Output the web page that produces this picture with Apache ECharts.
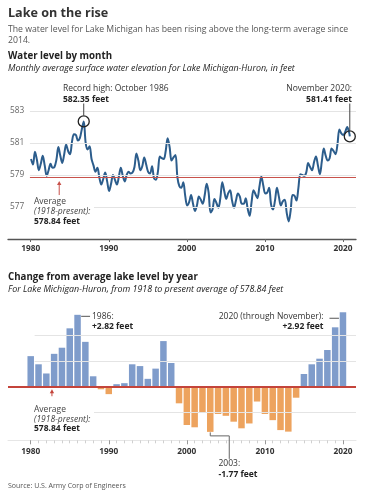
<!DOCTYPE html>
<html>
<head>
<meta charset="utf-8">
<script src="https://cdn.jsdelivr.net/npm/echarts@6/dist/echarts.min.js"></script>
<style>
html,body{margin:0;padding:0;background:#fff;}
#c{width:386px;height:500px;}
</style>
</head>
<body>
<div id="c"></div>
<script>
// ---------- DATA ----------
const lineYears = [1980,1981,1982,1983,1984,1985,1986,1987,1988,1989,
  1990,1991,1992,1993,1994,1995,1996,1997,1998,1999,
  2000,2001,2002,2003,2004,2005,2006,2007,2008,2009,
  2010,2011,2012,2013,2014,2015,2016,2017,2018,2019,2020];
const sampleMonths = [1, 4, 7, 10];
// surface elevation (feet) for the sampled months of each year
const monthlyLevels = [
  [580.00, 579.65, 580.45, 579.95],
  [579.30, 579.70, 580.20, 579.60],
  [578.95, 579.30, 579.70, 579.45],
  [579.50, 579.95, 580.75, 580.20],
  [579.75, 580.30, 580.90, 580.50],
  [580.30, 581.10, 581.55, 581.50],
  [581.15, 581.30, 581.85, 582.35],
  [581.00, 580.60, 580.80, 580.00],
  [579.60, 579.20, 579.45, 578.85],
  [578.40, 578.75, 579.15, 578.60],
  [578.00, 578.45, 579.00, 578.70],
  [578.40, 578.90, 579.45, 578.95],
  [578.60, 579.00, 579.20, 579.10],
  [579.15, 579.50, 580.35, 579.90],
  [579.30, 579.55, 580.10, 579.65],
  [579.20, 579.10, 579.55, 578.80],
  [578.70, 579.20, 580.15, 580.05],
  [580.00, 580.50, 581.30, 580.75],
  [579.90, 580.10, 580.25, 578.85],
  [578.30, 578.20, 578.55, 577.70],
  [577.10, 577.30, 577.75, 577.20],
  [576.75, 577.10, 577.65, 577.45],
  [577.20, 577.75, 578.45, 577.90],
  [576.65, 576.85, 577.50, 577.25],
  [576.95, 577.55, 578.55, 578.00],
  [577.50, 577.85, 578.05, 577.40],
  [576.95, 577.40, 577.85, 577.65],
  [577.20, 577.20, 577.55, 576.90],
  [576.45, 577.30, 578.05, 577.80],
  [577.55, 578.25, 578.90, 578.35],
  [577.85, 577.90, 578.20, 577.15],
  [576.85, 577.40, 578.20, 577.65],
  [577.10, 577.35, 577.45, 576.65],
  [576.10, 576.75, 577.75, 577.70],
  [577.40, 578.20, 579.05, 579.00],
  [578.95, 579.15, 579.75, 579.50],
  [579.30, 579.80, 580.15, 579.60],
  [579.05, 579.85, 580.65, 580.20],
  [579.90, 580.05, 580.65, 580.50],
  [580.30, 580.90, 581.85, 581.60],
  [581.50, 581.70, 582.00, 581.65]
];
const recordHigh = {year: 1986, month: 10, value: 582.35};
const latest = {year: 2020, month: 11, value: 581.41};
const avgLevel = 578.84;
const levelTicks = [577, 579, 581, 583];
const decadeTicks = [1980, 1990, 2000, 2010, 2020];

const barYears = [1980,1981,1982,1983,1984,1985,1986,1987,1988,1989,
  1990,1991,1992,1993,1994,1995,1996,1997,1998,1999,
  2000,2001,2002,2003,2004,2005,2006,2007,2008,2009,
  2010,2011,2012,2013,2014,2015,2016,2017,2018,2019,2020];
const barChange = [1.20, 0.88, 0.52, 1.29, 1.53, 2.29, 2.82, 1.76, 0.41, -0.10,
  -0.29, 0.10, 0.14, 0.88, 0.81, 0.31, 0.71, 1.79, 0.93, -0.65,
  -1.50, -1.59, -1.02, -1.77, -1.07, -1.14, -1.37, -1.63, -1.44, -0.58,
  -1.07, -1.31, -1.70, -1.76, -0.43, 0.50, 0.88, 1.10, 1.44, 2.33, 2.92];
const changeTicks = [-1, 1, 2];

// ---------- BUILD ----------
const FONT = '"Open Sans", "Noto Sans", sans-serif';
const X_MIN = 1977.09, X_MAX = 2021.67;
const toYear = (y, m) => y + (m - 0.5) / 12;
const plain = v => String(v);

const lineData = [];
lineYears.forEach((yr, i) => sampleMonths.forEach((m, j) => lineData.push([toYear(yr, m), monthlyLevels[i][j]])));
lineData.push([toYear(latest.year, latest.month), latest.value]);

const barData = barYears.map((y, i) => ({
  value: [y, barChange[i]],
  itemStyle: {color: barChange[i] >= 0 ? '#7f9ccb' : '#eda35e'}
}));

const GRID_COLOR = '#e4e4e4';
const RED = '#c4443b';

const chart = echarts.init(document.getElementById('c'));

const option = {
  animation: false,
  grid: [
    {left: 8, right: 30, top: 95, bottom: 261},
    {left: 8, right: 30, top: 311.5, bottom: 59.7}
  ],
  xAxis: [
    {gridIndex: 0, type: 'value', min: X_MIN, max: X_MAX, position: 'bottom',
      splitLine: {show: false},
      axisLine: {show: true, onZero: false, lineStyle: {color: '#555', width: 1.3}},
      axisTick: {show: true, customValues: decadeTicks, length: 3, lineStyle: {color: '#666'}},
      axisLabel: {customValues: decadeTicks, formatter: plain, fontSize: 8.3, fontWeight: 'bold', color: '#333', margin: 6, fontFamily: FONT}
    },
    {gridIndex: 1, type: 'value', min: X_MIN, max: X_MAX, position: 'bottom',
      splitLine: {show: false},
      axisLine: {show: true, onZero: false, lineStyle: {color: '#e6e6e6', width: 1}},
      axisTick: {show: true, customValues: barYears, length: 3, lineStyle: {color: '#d0d0d0'}},
      axisLabel: {show: false}
    },
    {gridIndex: 1, type: 'value', min: X_MIN, max: X_MAX, position: 'bottom',
      splitLine: {show: false},
      axisLine: {show: false, onZero: false},
      axisTick: {show: true, customValues: decadeTicks, length: 4, lineStyle: {color: '#999'}},
      axisLabel: {customValues: decadeTicks, formatter: plain, fontSize: 8.3, fontWeight: 'bold', color: '#333', margin: 7, fontFamily: FONT}
    }
  ],
  yAxis: [
    {gridIndex: 0, type: 'value', min: 575, max: 584, interval: 2,
      axisLine: {show: false}, axisTick: {show: false}, splitLine: {show: false},
      axisLabel: {inside: true, margin: 2, fontSize: 8.3, color: '#666', fontFamily: FONT,
        formatter: v => (levelTicks.indexOf(v) >= 0 ? String(v) : '')}
    },
    {gridIndex: 1, type: 'value', min: -2.1, max: 2.95, show: false}
  ],
  series: [
    { // gridlines + average (line chart)
      type: 'line', xAxisIndex: 0, yAxisIndex: 0, data: lineData, symbol: 'none', silent: true,
      lineStyle: {opacity: 0}, z: 1,
      markLine: {silent: true, symbol: 'none', label: {show: false}, animation: false,
        data: levelTicks.map(v => [
          {coord: [1979.9, v], lineStyle: {color: GRID_COLOR, width: 1, type: 'solid'}},
          {coord: [X_MAX, v]}
        ]).concat([[
          {coord: [1979.9, avgLevel], lineStyle: {color: '#c8524b', width: 1, type: 'solid'}},
          {coord: [X_MAX, avgLevel]}
        ]])
      }
    },
    { // water level line
      type: 'line', xAxisIndex: 0, yAxisIndex: 0, data: lineData, symbol: 'none', smooth: 0.35,
      lineStyle: {color: '#2c5d8c', width: 2}, z: 3, silent: true,
      markPoint: {symbol: 'circle', symbolSize: 11, silent: true, label: {show: false},
        itemStyle: {color: 'rgba(255,255,255,0)', borderColor: '#222', borderWidth: 1.3},
        data: [
          {coord: [toYear(recordHigh.year, recordHigh.month), recordHigh.value]},
          {coord: [toYear(latest.year, latest.month), latest.value]}
        ]
      }
    },
    { // bar gridlines
      type: 'line', xAxisIndex: 1, yAxisIndex: 1, data: barData.map(d => d.value), symbol: 'none', silent: true,
      lineStyle: {opacity: 0}, z: 1,
      markLine: {silent: true, symbol: 'none', label: {show: false}, animation: false,
        data: changeTicks.map(v => [
          {coord: [1980.5, v], lineStyle: {color: GRID_COLOR, width: 1, type: 'solid'}},
          {coord: [X_MAX, v]}
        ])
      }
    },
    { // bars
      type: 'bar', xAxisIndex: 1, yAxisIndex: 1, data: barData, barWidth: 6.5, z: 2, silent: true
    },
    { // zero line (average)
      type: 'line', xAxisIndex: 1, yAxisIndex: 1, data: barData.map(d => d.value), symbol: 'none', silent: true,
      lineStyle: {opacity: 0}, z: 4,
      markLine: {silent: true, symbol: 'none', label: {show: false}, animation: false,
        data: [[
          {coord: [X_MIN, 0], lineStyle: {color: RED, width: 2, type: 'solid'}},
          {coord: [X_MAX, 0]}
        ]]
      }
    }
  ]
};
chart.setOption(option);

// ---------- ANNOTATIONS ----------
const px = (si, x, y) => chart.convertToPixel({seriesIndex: si}, [x, y]);
const T = (text, x, y, o) => Object.assign({
  type: 'text', z: 50, silent: true,
  style: Object.assign({text: text, x: x, y: y, fill: '#333', fontFamily: FONT, fontSize: 8.5,
    align: 'left', verticalAlign: 'middle'}, o || {})
});
const L = (pts, color, w) => ({type: 'polyline', z: 40, silent: true,
  shape: {points: pts}, style: {stroke: color || '#555', lineWidth: w || 1, fill: null}});
const arrowUp = (x, tipY, tailY, color) => [
  L([[x, tipY + 2], [x, tailY]], color, 1),
  {type: 'polygon', z: 41, silent: true, shape: {points: [[x, tipY], [x - 2.2, tipY + 4], [x + 2.2, tipY + 4]]}, style: {fill: color}}
];

const rec = px(1, toYear(recordHigh.year, recordHigh.month), recordHigh.value);
const lat = px(1, toYear(latest.year, latest.month), latest.value);
const avgPt = px(0, 1983.65, avgLevel);
const zeroPt = px(4, 1982.72, 0);
const b86 = px(3, 1986, barChange[6]);
const b20 = px(3, 2020, barChange[40]);
const b03 = px(3, 2003, barChange[23]);

const g = [];
// headers
g.push(T('Lake on the rise', 8, 13, {fontSize: 12.6, fontWeight: 'bold', fill: '#333'}));
g.push(T('The water level for Lake Michigan has been rising above the long-term average since', 8, 29.5, {fontSize: 8.7, fill: '#555'}));
g.push(T('2014.', 8, 40.5, {fontSize: 8.7, fill: '#555'}));
g.push(T('Water level by month', 8, 56.5, {fontSize: 9.7, fontWeight: 'bold', fill: '#222'}));
g.push(T('Monthly average surface water elevation for Lake Michigan-Huron, in feet', 8, 68.5, {fontSize: 8.9, fontStyle: 'italic', fill: '#222'}));

// record high annotation
g.push(T('Record high: October 1986', 63, 89, {}));
g.push(T('582.35 feet', 63, 99.5, {fontWeight: 'bold', fill: '#222'}));
g.push(L([[rec[0], 103.5], [rec[0], rec[1] - 6]], '#444', 1));
// latest annotation
g.push(T('November 2020:', 352, 89, {align: 'right'}));
g.push(T('581.41 feet', 352, 99.5, {fontWeight: 'bold', fill: '#222', align: 'right'}));
g.push(L([[lat[0], 103.5], [lat[0], lat[1] - 6]], '#444', 1));

// line-chart average note
g.push({type: 'rect', z: 30, silent: true, shape: {x: 30, y: 196, width: 64, height: 31}, style: {fill: '#fff'}});
g.push(...arrowUp(avgPt[0], avgPt[1] + 3.5, avgPt[1] + 17.5, '#c8524b'));
g.push(T('Average', 34, 201.5, {fill: '#444'}));
g.push(T('(1918-present):', 34, 211.5, {fontStyle: 'italic', fill: '#444'}));
g.push(T('578.84 feet', 34, 221.5, {fontWeight: 'bold', fill: '#222'}));

// bar chart headers
g.push(T('Change from average lake level by year', 8, 277, {fontSize: 9.7, fontWeight: 'bold', fill: '#222'}));
g.push(T('For Lake Michigan-Huron, from 1918 to present average of 578.84 feet', 8, 289, {fontSize: 8.9, fontStyle: 'italic', fill: '#222'}));

// 1986 bar note
g.push(L([[b86[0] + 3.6, b86[1] + 1.5], [b86[0] + 12.5, b86[1] + 1.5]], '#555', 1));
g.push(T('1986:', 92, 317, {}));
g.push(T('+2.82 feet', 92, 327, {fontWeight: 'bold', fill: '#222'}));
// 2020 bar note
g.push(L([[b20[0] - 13.5, b20[1] + 6], [b20[0] - 4, b20[1] + 6]], '#555', 1));
g.push(T('2020 (through November):', 323.5, 317, {align: 'right'}));
g.push(T('+2.92 feet', 323.5, 327, {fontWeight: 'bold', fill: '#222', align: 'right'}));
// 2003 bar note
g.push(L([[b03[0], b03[1] + 0.5], [b03[0], b03[1] + 4], [b03[0] + 19, b03[1] + 4], [b03[0] + 19, b03[1] + 27]], '#666', 1));
g.push(T('2003:', 218.5, 464, {}));
g.push(T('-1.77 feet', 218.5, 475, {fontWeight: 'bold', fill: '#222'}));

// bar-chart average note
g.push({type: 'rect', z: 30, silent: true, shape: {x: 30, y: 404, width: 64, height: 31}, style: {fill: '#fff'}});
g.push(...arrowUp(zeroPt[0], zeroPt[1] + 2.6, zeroPt[1] + 9.5, '#c4443b'));
g.push(T('Average', 34, 410, {fill: '#444'}));
g.push(T('(1918-present):', 34, 419.5, {fontStyle: 'italic', fill: '#444'}));
g.push(T('578.84 feet', 34, 429, {fontWeight: 'bold', fill: '#222'}));

// source
g.push(T('Source: U.S. Army Corp of Engineers', 8, 486, {fontSize: 7, fill: '#555'}));

chart.setOption({graphic: {elements: g}});
</script>
</body>
</html>
